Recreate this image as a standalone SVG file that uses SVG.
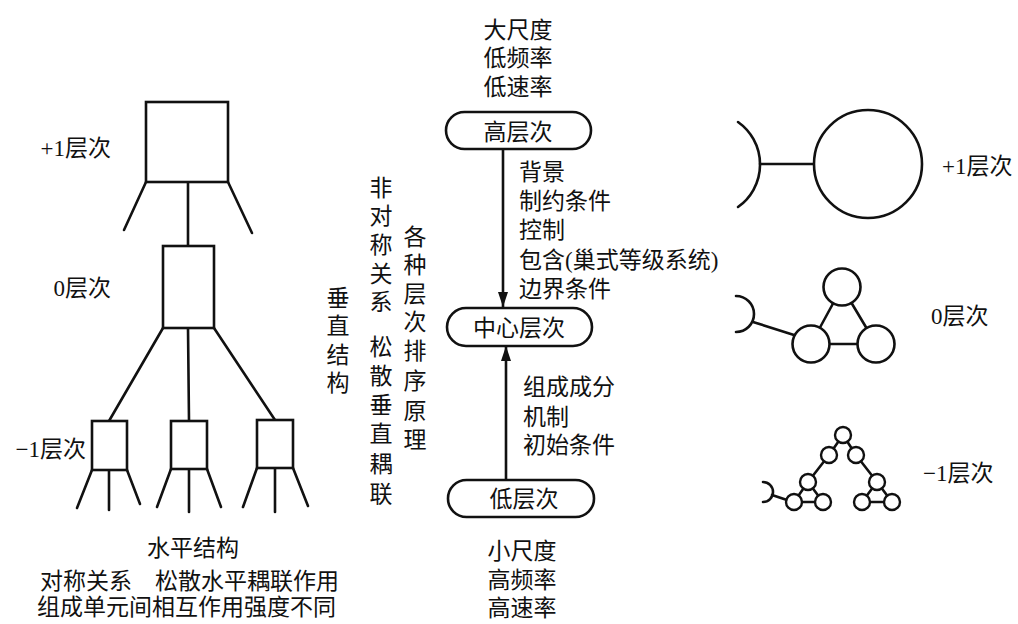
<svg xmlns="http://www.w3.org/2000/svg" width="1018" height="624" viewBox="0 0 1018 624">
<defs>
<style>
text{font-family:"Liberation Serif","Noto Sans CJK SC",serif;font-size:23px;fill:#111}
.m{text-anchor:middle}
.e{text-anchor:end}
.ln{stroke:#111;stroke-width:2.6;fill:none;stroke-linecap:round}
.bx{stroke:#111;stroke-width:2.6;fill:#fff}
.c{stroke:#111;stroke-width:2.6;fill:#fff}
.cs{stroke:#111;stroke-width:2.4;fill:#fff}
</style>
<marker id="ah" markerUnits="userSpaceOnUse" markerWidth="16" markerHeight="12" refX="15" refY="6" orient="auto">
<path d="M0,1 L15,6 L0,11 Z" fill="#111"/>
</marker>
</defs>
<rect width="1018" height="624" fill="#fff"/>

<g id="connectors">
<!-- left tree -->
<line class="ln" x1="146" y1="182" x2="124" y2="230"/>
<line class="ln" x1="228" y1="182" x2="252" y2="233"/>
<line class="ln" x1="188" y1="182" x2="188" y2="246"/>
<line class="ln" x1="163" y1="328" x2="109" y2="421"/>
<line class="ln" x1="188" y1="328" x2="189" y2="421"/>
<line class="ln" x1="214" y1="328" x2="275" y2="420"/>
<line class="ln" x1="92" y1="470" x2="77" y2="508"/>
<line class="ln" x1="109" y1="470" x2="109" y2="510"/>
<line class="ln" x1="127" y1="470" x2="140" y2="504"/>
<line class="ln" x1="171" y1="469" x2="157" y2="507"/>
<line class="ln" x1="189" y1="469" x2="189" y2="512"/>
<line class="ln" x1="207" y1="469" x2="221" y2="507"/>
<line class="ln" x1="257" y1="468" x2="243" y2="507"/>
<line class="ln" x1="275" y1="468" x2="275" y2="512"/>
<line class="ln" x1="293" y1="468" x2="308" y2="506"/>
<!-- middle arrows -->
<line class="ln" x1="503" y1="149" x2="503" y2="307" marker-end="url(#ah)" stroke-linecap="butt"/>
<line class="ln" x1="506" y1="480" x2="506" y2="346" marker-end="url(#ah)" stroke-linecap="butt"/>
<!-- right +1 -->
<line class="ln" x1="760" y1="164" x2="814" y2="164"/>
<!-- right 0 -->
<line class="ln" x1="753" y1="322" x2="794" y2="335"/>
<line class="ln" x1="842" y1="287" x2="811" y2="344"/>
<line class="ln" x1="842" y1="287" x2="876" y2="344"/>
<line class="ln" x1="811" y1="344" x2="876" y2="344"/>
<!-- right -1 -->
<line class="ln" x1="772" y1="495" x2="787" y2="500"/>
<line class="ln" x1="843" y1="435" x2="829" y2="455"/>
<line class="ln" x1="843" y1="435" x2="856" y2="455"/>
<line class="ln" x1="829" y1="455" x2="808" y2="482"/>
<line class="ln" x1="856" y1="455" x2="877" y2="482"/>
<line class="ln" x1="808" y1="482" x2="794" y2="502"/>
<line class="ln" x1="808" y1="482" x2="823" y2="502"/>
<line class="ln" x1="794" y1="502" x2="823" y2="502"/>
<line class="ln" x1="877" y1="482" x2="862" y2="502"/>
<line class="ln" x1="877" y1="482" x2="892" y2="502"/>
<line class="ln" x1="862" y1="502" x2="892" y2="502"/>
</g>

<g id="tree-boxes">
<rect id="box-p1" class="bx" x="146" y="102" width="82" height="80"/>
<rect id="box-0" class="bx" x="163" y="246" width="51" height="82"/>
<rect id="box-m1a" class="bx" x="92" y="421" width="35" height="49"/>
<rect id="box-m1b" class="bx" x="171" y="421" width="36" height="48"/>
<rect id="box-m1c" class="bx" x="257" y="420" width="36" height="48"/>
</g>

<g id="left-labels">
<text class="e" x="111" y="156">+1层次</text>
<text class="e" x="111" y="296">0层次</text>
<text class="e" x="86" y="457">−1层次</text>
</g>

<g id="vertical-labels">
<text class="m" x="338" y="306">垂</text>
<text class="m" x="338" y="334">直</text>
<text class="m" x="338" y="363">结</text>
<text class="m" x="338" y="391">构</text>

<text class="m" x="381" y="196">非</text>
<text class="m" x="381" y="224">对</text>
<text class="m" x="381" y="253">称</text>
<text class="m" x="381" y="282">关</text>
<text class="m" x="381" y="310">系</text>
<text class="m" x="381" y="355">松</text>
<text class="m" x="381" y="384">散</text>
<text class="m" x="381" y="413">垂</text>
<text class="m" x="381" y="442">直</text>
<text class="m" x="381" y="472">耦</text>
<text class="m" x="381" y="502">联</text>

<text class="m" x="415" y="245">各</text>
<text class="m" x="415" y="273">种</text>
<text class="m" x="415" y="302">层</text>
<text class="m" x="415" y="330">次</text>
<text class="m" x="415" y="359">排</text>
<text class="m" x="415" y="389">序</text>
<text class="m" x="415" y="419">原</text>
<text class="m" x="415" y="448">理</text>
</g>

<g id="bottom-labels">
<text class="m" x="193" y="556">水平结构</text>
<text x="40" y="589">对称关系　松散水平耦联作用</text>
<text x="37" y="615">组成单元间相互作用强度不同</text>
</g>

<g id="top-scale">
<text class="m" x="518" y="38">大尺度</text>
<text class="m" x="518" y="66">低频率</text>
<text class="m" x="518" y="95">低速率</text>
</g>

<g id="node-high">
<rect class="bx" x="446" y="112" width="145" height="37" rx="18.5"/>
<text class="m" x="518" y="140">高层次</text>
</g>

<g id="down-labels">
<text x="519" y="180">背景</text>
<text x="519" y="209">制约条件</text>
<text x="519" y="238">控制</text>
<text x="519" y="268">包含(巢式等级系统)</text>
<text x="519" y="297">边界条件</text>
</g>

<g id="node-center">
<rect class="bx" x="447" y="308" width="145" height="38" rx="19"/>
<text class="m" x="519" y="336">中心层次</text>
</g>

<g id="up-labels">
<text x="523" y="395">组成成分</text>
<text x="523" y="425">机制</text>
<text x="523" y="453">初始条件</text>
</g>

<g id="node-low">
<rect class="bx" x="448" y="480" width="146" height="37" rx="18.5"/>
<text class="m" x="524" y="507">低层次</text>
</g>

<g id="bottom-scale">
<text class="m" x="522" y="559">小尺度</text>
<text class="m" x="522" y="588">高频率</text>
<text class="m" x="522" y="616">高速率</text>
</g>

<g id="right-p1">
<path class="ln" d="M738,122 A52,52 0 0 1 738,207"/>
<circle class="c" cx="868" cy="164" r="54"/>
<text x="942" y="174">+1层次</text>
</g>

<g id="right-0">
<path class="ln" d="M736,296 A18,18 0 0 1 736,332"/>
<circle class="c" cx="842" cy="287" r="18.5"/>
<circle class="c" cx="811" cy="344" r="18.5"/>
<circle class="c" cx="876" cy="344" r="18.5"/>
<text x="931" y="324">0层次</text>
</g>

<g id="right-m1">
<path class="ln" d="M763,482 A10,10 0 0 1 763,502"/>
<circle class="cs" cx="843" cy="435" r="8"/>
<circle class="cs" cx="829" cy="455" r="8"/>
<circle class="cs" cx="856" cy="455" r="8"/>
<circle class="cs" cx="808" cy="482" r="8"/>
<circle class="cs" cx="794" cy="502" r="8"/>
<circle class="cs" cx="823" cy="502" r="8"/>
<circle class="cs" cx="877" cy="482" r="8"/>
<circle class="cs" cx="862" cy="502" r="8"/>
<circle class="cs" cx="892" cy="502" r="8"/>
<text x="923" y="481">−1层次</text>
</g>
</svg>
